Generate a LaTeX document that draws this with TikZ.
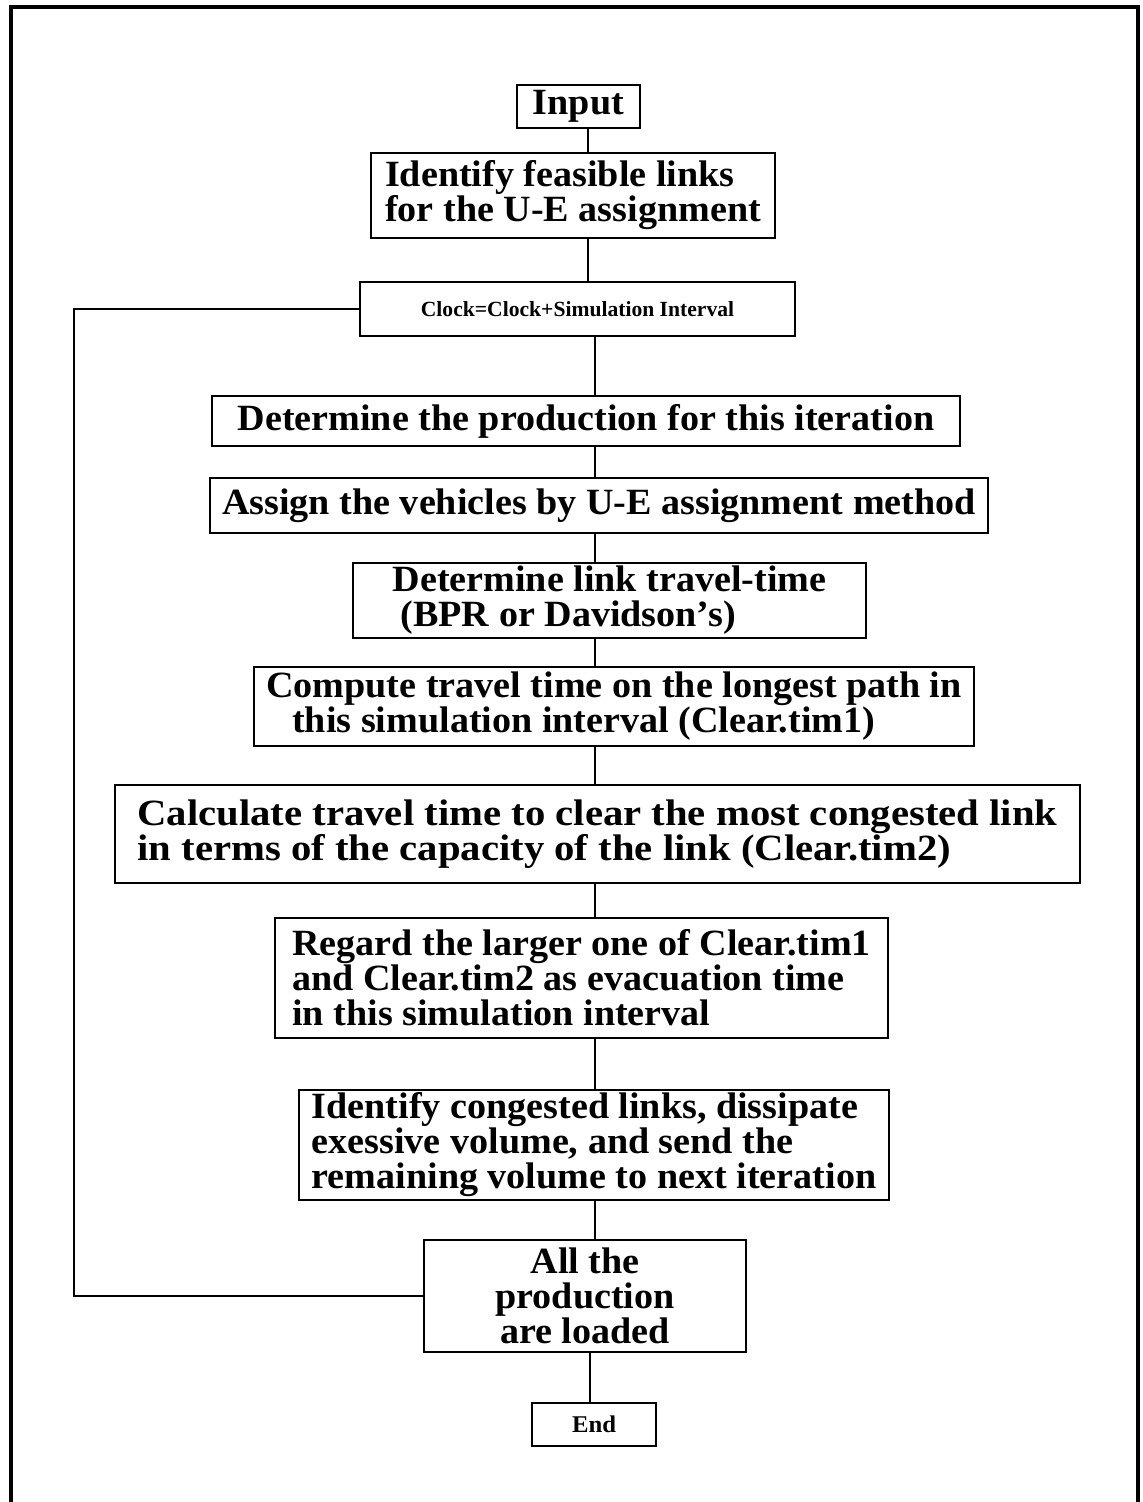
\documentclass[tikz,border=0pt]{standalone}
\usepackage{fontspec}
\setmainfont[FakeStretch=1.03]{Liberation Serif}
\newfontfamily\clockfont{Liberation Serif}
\newfontfamily\wideserif[FakeStretch=1.1]{Liberation Serif}
\usetikzlibrary{positioning}

\begin{document}
\begin{tikzpicture}[
    x=0.5pt, y=-0.5pt,
    box/.style={draw, line width=1pt, inner sep=0pt, align=left,
      font=\bfseries\fontsize{18.5}{17.5}\selectfont},
    line/.style={line width=1pt}
]
\useasboundingbox (0,0) rectangle (1142,1502);

% Frame
\draw[line width=1.6pt] (11,1502) -- (11,7) -- (1138,7) -- (1138,1502);

% Nodes
\node[box, minimum width=61.5pt, minimum height=21.5pt] (input) at (578.5,106.5) {Input};
\node[box, minimum width=202pt, minimum height=42.5pt] (feas) at (573,195.5)
  {Identify feasible links\\for the U-E assignment};
\node[box, minimum width=217.5pt, minimum height=27pt,
  font=\clockfont\bfseries\fontsize{10.8}{12}\selectfont] (clock) at (577.5,309)
  {Clock=Clock+Simulation Interval};
\node[box, minimum width=374pt, minimum height=25pt] (prod) at (586,421)
  {Determine the production for this iteration};
\node[box, minimum width=389pt, minimum height=27.5pt] (assign) at (599,505.5)
  {Assign the vehicles by U-E assignment method};
\node[box, minimum width=256.5pt, minimum height=37.5pt] (ttime) at (609.5,600.5)
  {Determine link travel-time\\\hspace{4pt}(BPR or Davidson's)};
\node[box, minimum width=360pt, minimum height=39.5pt] (longest) at (614,706.5)
  {Compute travel time on the longest path in\\\hspace{13pt}this simulation interval (Clear.tim1)};
\node[box, minimum width=482.5pt, minimum height=49pt,
  font=\wideserif\bfseries\fontsize{18.5}{17.5}\selectfont] (clear) at (597.5,834)
  {Calculate travel time to clear the most congested link\\in terms of the capacity of the link (Clear.tim2)};
\node[box, minimum width=306.5pt, minimum height=60pt] (regard) at (581.5,978)
  {Regard the larger one of Clear.tim1\\and Clear.tim2 as evacuation time\\in this simulation interval};
\node[box, minimum width=295pt, minimum height=55pt] (congest) at (594,1145)
  {Identify congested links, dissipate\\exessive volume, and send the\\remaining volume to next iteration};
\node[box, minimum width=161pt, minimum height=56pt, align=center] (loaded) at (585,1296)
  {All the\\production\\are loaded};
\node[box, minimum width=62pt, minimum height=21.5pt,
  font=\bfseries\fontsize{12}{14}\selectfont] (end) at (594,1424.5) {End};

% Spines
\coordinate (spineA) at (588,0);
\coordinate (spineB) at (595,0);
\coordinate (spineC) at (590,0);
\coordinate (back) at (74,0);

% Lines
\draw[line] (input.south -| spineA) -- (feas.north -| spineA);
\draw[line] (feas.south -| spineA) -- (clock.north -| spineA);
\draw[line] (clock.south -| spineB) -- (prod.north -| spineB);
\draw[line] (prod.south -| spineB) -- (assign.north -| spineB);
\draw[line] (assign.south -| spineB) -- (ttime.north -| spineB);
\draw[line] (ttime.south -| spineB) -- (longest.north -| spineB);
\draw[line] (longest.south -| spineB) -- (clear.north -| spineB);
\draw[line] (clear.south -| spineB) -- (regard.north -| spineB);
\draw[line] (regard.south -| spineB) -- (congest.north -| spineB);
\draw[line] (congest.south -| spineB) -- (loaded.north -| spineB);
\draw[line] (loaded.south -| spineC) -- (end.north -| spineC);
\draw[line] (clock.west) -- (clock.west -| back) |- (loaded.west);

\end{tikzpicture}
\end{document}
